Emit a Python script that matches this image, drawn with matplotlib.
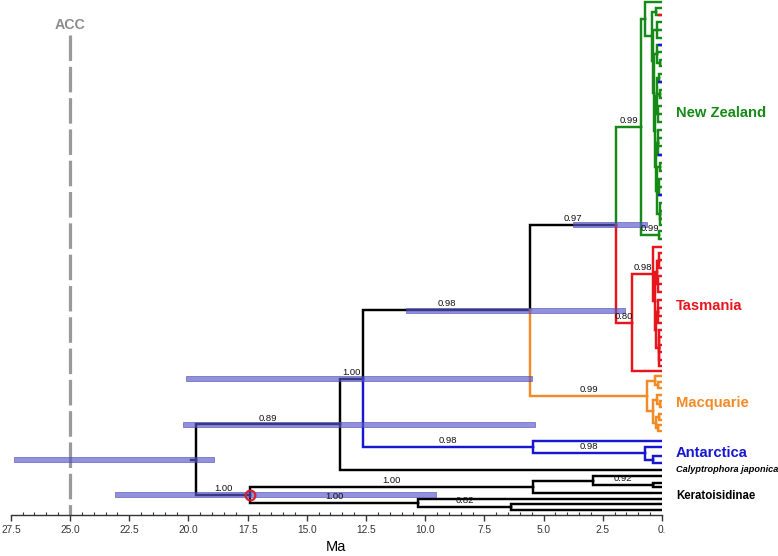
###############################################################################
### DATED PHYLOGENY WITH NODE AGE INTERVALS
###############################################################################

import matplotlib.pyplot as plt
from matplotlib.ticker import MultipleLocator


#------------------------------------------------------------------------------
### Data

# Tips are given by their row position (0 = top row), internal nodes as
# (age in Ma, posterior support, [children]).
new_zealand = (0.89, '0.99', [
    (0.72, '', [2, (0.42, '', [
        (0.25, '', [8, 15]),
        (0.38, '', [
            (0.20, '', [22, 30, 38]),
            (0.33, '', [
                (0.22, '', [45, 52, (0.10, '', [60, 66])]),
                (0.30, '', [
                    (0.20, '', [(0.12, '', [74, 82]), (0.08, '', [90, 98]),
                                (0.15, '', [106, 114, 122])]),
                    (0.25, '', [
                        (0.18, '', [130, 138, 146, 155]),
                        (0.20, '', [(0.10, '', [163, 171]),
                                    (0.14, '', [179, 187, 195]),
                                    (0.08, '', [203, 211, 219, 225])]),
                    ]),
                ]),
            ]),
        ]),
    ])]),
    (0.13, '0.99', [231, 239]),
])

tasmania = (1.27, '0.80', [
    (0.38, '0.98', [247, (0.30, '', [
        (0.20, '', [(0.12, '', [253, 260, 268]), (0.15, '', [276, 284, 292])]),
        (0.25, '', [(0.15, '', [300, 308, 316, 323]),
                    (0.12, '', [330, 337, 345, 352, 360, 366])]),
    ])]),
    371,
])

macquarie = (0.63, '0.99', [
    (0.30, '', [376, (0.15, '', [382, 388])]),
    (0.38, '', [(0.22, '', [395, (0.10, '', [401, 407])]),
                (0.25, '', [(0.12, '', [414, 420]), (0.15, '', [425, 431])])]),
])

antarctica = (5.45, '0.98', [441, (0.72, '0.98', [447, (0.38, '', [456, 463])])])

calyptrophora = 470

keratoisidinae = (17.40, '1.00', [
    (5.45, '1.00', [(2.91, '', [476, (0.38, '0.92', [483, 487])]), 493]),
    (10.30, '1.00', [499, (6.38, '0.82', [504, 510])]),
])

backbone = (19.68, '', [
    (13.60, '0.89', [
        (12.63, '1.00', [
            (5.57, '0.98', [
                (1.94, '0.97', [new_zealand, tasmania]),
                macquarie,
            ]),
            antarctica,
        ]),
        calyptrophora,
    ]),
    keratoisidinae,
])
root_age = 19.90

# 95% HPD intervals of node ages
hpd_node_age = [19.68, 13.60, 12.63, 17.40, 5.57, 1.94]
hpd_low = [18.92, 5.36, 5.49, 9.54, 1.56, 0.63]
hpd_high = [27.36, 20.23, 20.10, 23.10, 10.81, 3.76]

# Tips inside the New Zealand clade sampled elsewhere
foreign_tips = {15: 'Tasmania', 45: 'Antarctica', 82: 'Antarctica',
                155: 'Antarctica', 195: 'Antarctica'}

# Opening of the Antarctic Circumpolar Current
acc_age = 25.0

tick_ages = [27.5, 25.0, 22.5, 20.0, 17.5, 15.0, 12.5, 10.0, 7.5, 5.0, 2.5, 0.0]
tick_labels = ['27.5', '25.0', '22.5', '20.0', '17.5', '15.0', '12.5',
               '10.0', '7.5', '5.0', '2.5', '0.']

group_names = ['New Zealand', 'Tasmania', 'Macquarie', 'Antarctica',
               'Calyptrophora japonica', 'Keratoisidinae']
group_rows = [113, 306, 403, 453, 470, 496]


#------------------------------------------------------------------------------
### Styles

GREEN = '#168a16'
RED = '#e8151d'
ORANGE = '#f28a26'
BLUE = '#1717d2'
REGION_COLORS = {'New Zealand': GREEN, 'Tasmania': RED, 'Macquarie': ORANGE,
                 'Antarctica': BLUE}
CLADE_COLORS = {id(new_zealand): GREEN, id(tasmania): RED,
                id(macquarie): ORANGE, id(antarctica): BLUE}
LW = 1.75

plt.rcParams['font.family'] = ['Liberation Sans', 'DejaVu Sans']


#------------------------------------------------------------------------------
### Functions

def row_of(node):
    # Tips carry their row, internal nodes sit between first and last child
    if isinstance(node, (int, float)):
        return node
    return (row_of(node[2][0]) + row_of(node[2][-1])) / 2


def draw(ax, node, parent_age, parent_row, color, node_rows):
    color = CLADE_COLORS.get(id(node), color)
    row = row_of(node)
    tip = isinstance(node, (int, float))
    age = 0.0 if tip else node[0]

    ax.plot([parent_age, parent_age, age], [parent_row, row, row],
            color=color, lw=LW, solid_joinstyle='miter',
            solid_capstyle='projecting', zorder=2)

    if tip:
        if row in foreign_tips:
            ax.plot([0.12, 0.0], [row, row], lw=LW,
                    color=REGION_COLORS[foreign_tips[row]], zorder=2)
        return

    if node[1]:
        ax.text((parent_age + age) / 2, row - 1.8, node[1], ha='center',
                va='bottom', fontsize=6.8, color='#111111', zorder=5)
    node_rows[age] = row
    for child in node[2]:
        draw(ax, child, age, row, color, node_rows)


#------------------------------------------------------------------------------
### Figure

fig = plt.figure(figsize=(7.78, 5.56), dpi=100)
ax = fig.add_axes([10.8 / 778, 1 - 515 / 556, 651.2 / 778, 515 / 556])

node_rows = {}
draw(ax, backbone, root_age, row_of(backbone), 'black', node_rows)

# Node age intervals
for node_age, lo, hi in zip(hpd_node_age, hpd_low, hpd_high):
    ax.barh(node_rows[node_age], hi - lo, left=lo, height=5,
            color=(0.34, 0.34, 0.80), alpha=0.65,
            edgecolor=(0.28, 0.28, 0.68), linewidth=0.6, zorder=3)

# Calibration node
ax.plot(17.40, node_rows[17.40], 'o', mfc='none', mec='#d42030', ms=7,
        mew=1.6, zorder=4)

# ACC line
ax.plot([acc_age, acc_age], [35, 515], color='#9a9a9a', lw=2.3,
        linestyle=(0, (8, 1.8)), solid_capstyle='butt', clip_on=False,
        zorder=1)
ax.text(acc_age, 25, 'ACC', ha='center', va='center', fontsize=10.3,
        fontweight='bold', color='#8c8c8c')

# Group labels
for name, row in zip(group_names, group_rows):
    if name in REGION_COLORS:
        ax.text(-0.59, row, name, ha='left', va='center', fontsize=10.6,
                fontweight='bold', color=REGION_COLORS[name])
    elif name == 'Calyptrophora japonica':
        ax.text(-0.59, row, name, ha='left', va='center', fontsize=6.6,
                fontweight='bold', style='italic', color='black')
    else:
        ax.text(-0.59, row, name, ha='left', va='center', fontsize=8.3,
                fontweight='bold', color='black')

# Axes
ax.set_xlim(27.5, 0)
ax.set_ylim(515, 0)
for side in ['top', 'left', 'right']:
    ax.spines[side].set_visible(False)
ax.spines['bottom'].set_color('#333333')
ax.spines['bottom'].set_linewidth(1.0)
ax.set_yticks([])
ax.set_xticks(tick_ages, tick_labels)
ax.xaxis.set_minor_locator(MultipleLocator(0.5))
ax.tick_params(axis='x', which='major', direction='out', length=4,
               width=1, color='#333333', labelsize=7.3, labelcolor='#333333',
               pad=3)
ax.tick_params(axis='x', which='minor', direction='in', length=2.5,
               width=0.8, color='#333333')
ax.set_xlabel('Ma', fontsize=10.5, labelpad=4)

fig.savefig('out.png', dpi=100)
plt.close()
